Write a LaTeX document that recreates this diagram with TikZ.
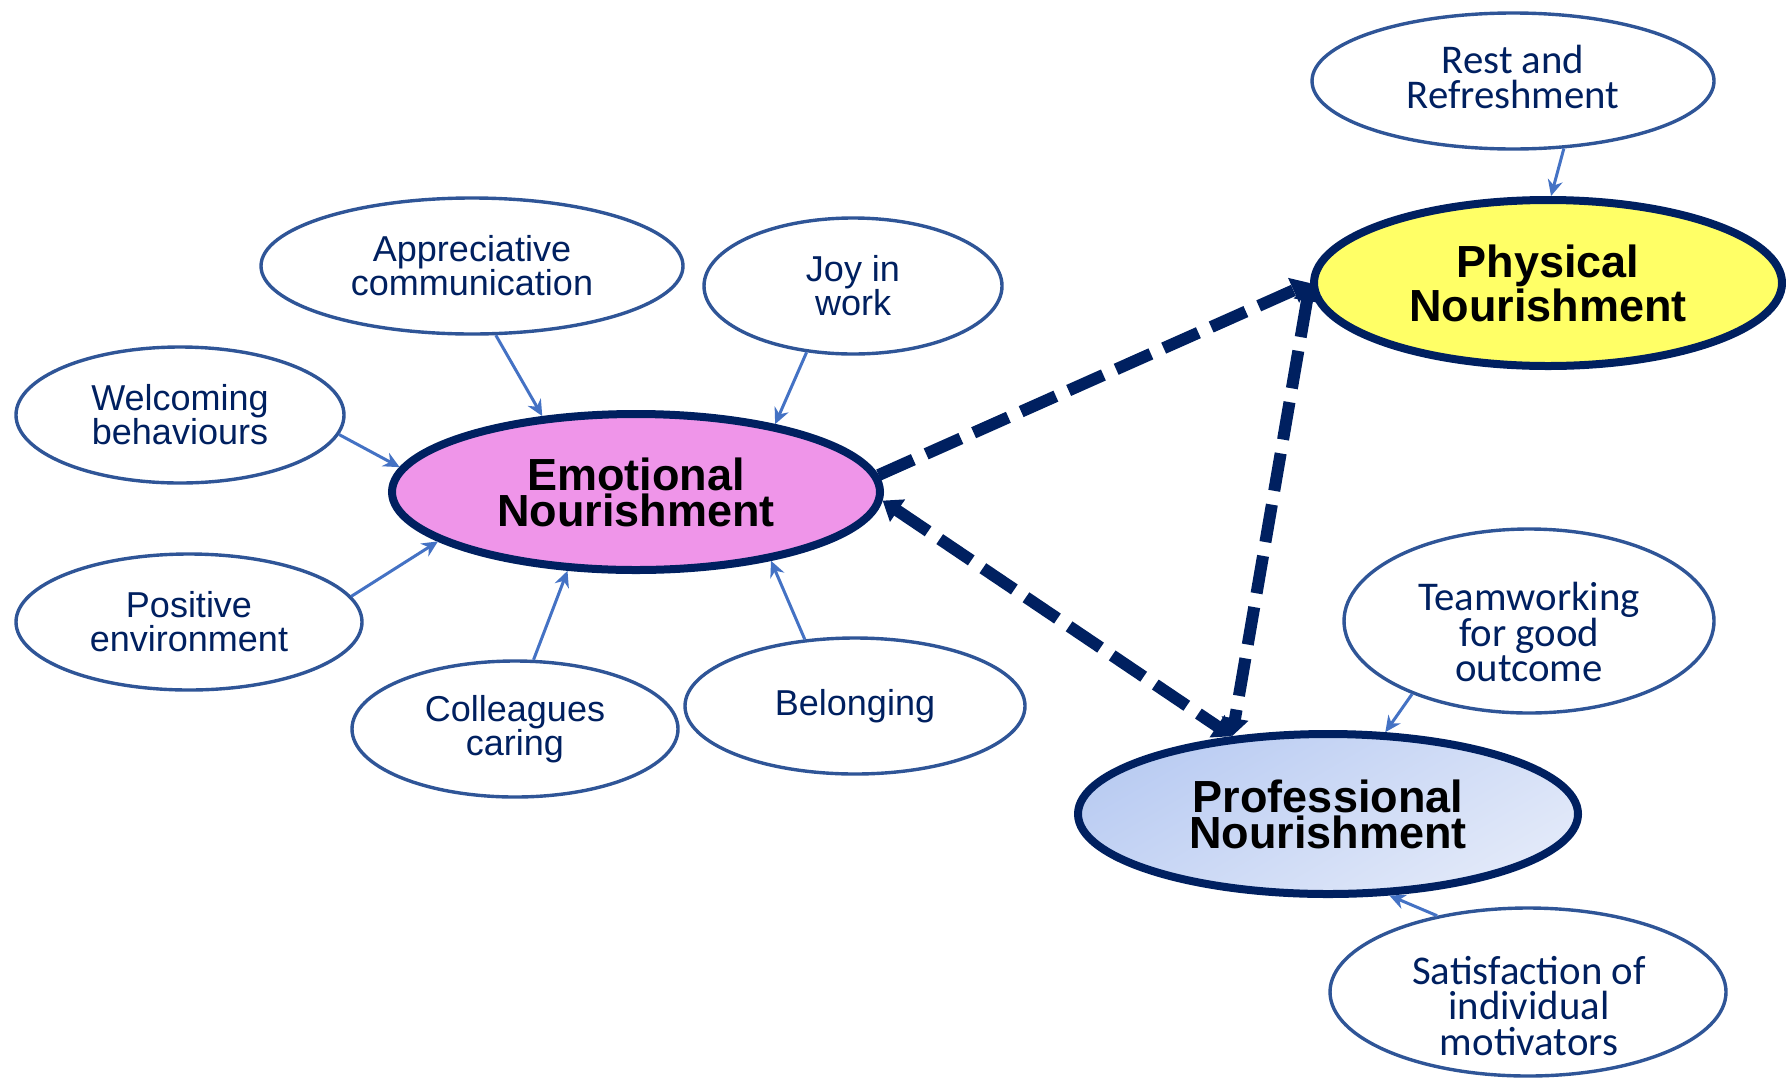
\documentclass[tikz,border=0pt]{standalone}
\usepackage{fontspec}
\setmainfont{Liberation Sans}
\newfontfamily\calib{Carlito}
\usetikzlibrary{shapes.geometric,arrows.meta}

\definecolor{navy}{RGB}{0,32,96}
\definecolor{satborder}{RGB}{47,85,151}
\definecolor{arrowblue}{RGB}{68,114,196}
\definecolor{emofill}{RGB}{239,149,233}
\definecolor{physfill}{RGB}{255,255,102}
\definecolor{profA}{RGB}{186,204,242}
\definecolor{profB}{RGB}{226,233,249}

\begin{document}
\begin{tikzpicture}[x=0.5pt,y=-0.5pt,
  satbox/.style={ellipse, draw=satborder, line width=1.7pt, fill=white, inner sep=0pt,
    text=navy, align=center, font=\fontsize{18}{17}\selectfont},
  mainbox/.style={ellipse, draw=navy, line width=4pt, inner sep=0pt, text=black,
    align=center, font=\fontsize{22.5}{18}\selectfont\bfseries},
  caltext/.style={text=navy, align=center, inner sep=0pt,
    font=\calib\fontsize{20.4}{17.7}\selectfont},
  feedarrow/.style={draw=arrowblue, line width=1.5pt, -{Stealth[length=8pt,width=7.5pt]}},
  linkdash/.style={draw=navy, line width=6pt, dash pattern=on 19pt off 7pt},
  headtip/.tip={Triangle[length=9pt,width=13pt]}
]
\useasboundingbox (0,0) rectangle (1786,1082);

% satellites and main nodes
\node[satbox, minimum width=201pt, minimum height=68pt] (rest) at (1513,81) {};
\node[caltext] (rest-t) at (1513,77) {Rest and\\Refreshment};

\node[mainbox, fill=physfill, minimum width=234pt, minimum height=83pt] (phys) at (1548,283) {Physical\\Nourishment};

\node[satbox, minimum width=211pt, minimum height=68pt] (appr) at (472,266) {Appreciative\\communication};
\node[satbox, minimum width=149pt, minimum height=68pt] (joy) at (853,286) {Joy in\\work};
\node[satbox, minimum width=164pt, minimum height=68pt] (welc) at (180,415) {Welcoming\\behaviours};

\node[mainbox, fill=emofill, minimum width=244pt, minimum height=78pt] (emo) at (636,492) {Emotional\\Nourishment};

\node[satbox, minimum width=173pt, minimum height=68pt] (pos) at (189,622) {Positive\\environment};
\node[satbox, minimum width=163pt, minimum height=68pt] (coll) at (515,729) {Colleagues\\caring};
\node[satbox, minimum width=170pt, minimum height=68pt] (belo) at (855,706) {Belonging};

\node[satbox, minimum width=185pt, minimum height=92pt] (team) at (1529,621) {};
\node[caltext] (team-t) at (1529,632) {Teamworking\\for good\\outcome};

\node[mainbox, top color=profA, bottom color=profB, shading angle=30,
      minimum width=250pt, minimum height=80pt] (prof) at (1328,814) {Professional\\Nourishment};

\node[satbox, minimum width=198pt, minimum height=84pt] (satis) at (1528,992) {};
\node[caltext] (satis-t) at (1529,1006) {Satisfaction of\\individual\\motivators};

% feeding arrows
\draw[feedarrow] (welc.-7) -- (emo.174);
\draw[feedarrow] (appr.-71) -- (emo.141);
\draw[feedarrow] (joy.-125) -- (emo.26);
\draw[feedarrow] (pos.9) -- (emo.-166);
\draw[feedarrow] (coll.75) -- (emo.-131);
\draw[feedarrow] (belo.127) -- (emo.-27);
\draw[feedarrow] (rest.-53) -- (phys.88);
\draw[feedarrow] (team.-148) -- (prof.55);
\draw[feedarrow] (satis.140) -- (prof.-53);

% dashed links
\draw[linkdash, -headtip] (emo.4) -- (phys.180);
\draw[linkdash, headtip-headtip] (emo.-2) -- (prof.141);
\draw[linkdash, headtip-headtip] (phys.180) -- (prof.141);
\end{tikzpicture}
\end{document}
